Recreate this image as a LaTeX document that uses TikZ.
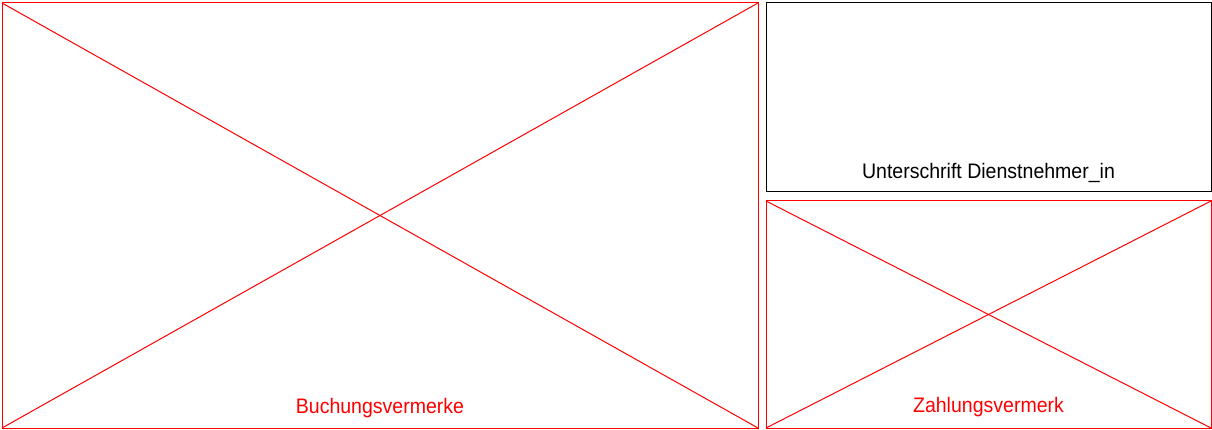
\documentclass[tikz,border=0pt]{standalone}
\usepackage{fontspec}
\setmainfont{Liberation Sans}
\definecolor{pred}{RGB}{255,0,0}
\begin{document}
\begin{tikzpicture}[x=1pt,y=-1pt,
  frame/.style={draw, line width=1pt, inner sep=0pt, outer sep=0pt, rectangle},
  redframe/.style={frame, draw=pred},
  cross/.style={draw=pred, line width=1pt},
  lbl/.style={anchor=base, inner sep=0pt, font=\fontsize{21}{24}\selectfont}
]
\useasboundingbox (0,0) rectangle (1212,430);
\node[redframe, minimum width=756pt, minimum height=425pt] (buch) at (380,215.5) {};
\node[frame, draw=black, minimum width=445pt, minimum height=189pt] (unt) at (988.5,97.5) {};
\node[redframe, minimum width=445pt, minimum height=227pt] (zahl) at (988.5,314.5) {};
\draw[cross] (buch.north west) -- (buch.south east);
\draw[cross] (buch.south west) -- (buch.north east);
\draw[cross] (zahl.north west) -- (zahl.south east);
\draw[cross] (zahl.south west) -- (zahl.north east);
\node[lbl, text=pred] (tb) at (380,413) {\scalebox{0.93}[1]{Buchungsvermerke}};
\node[lbl, text=black] (tu) at (988.5,179) {\scalebox{0.93}[1]{Unterschrift Dienstnehmer\_in}};
\node[lbl, text=pred] (tz) at (988.5,412) {\scalebox{0.93}[1]{Zahlungsvermerk}};
\end{tikzpicture}
\end{document}
